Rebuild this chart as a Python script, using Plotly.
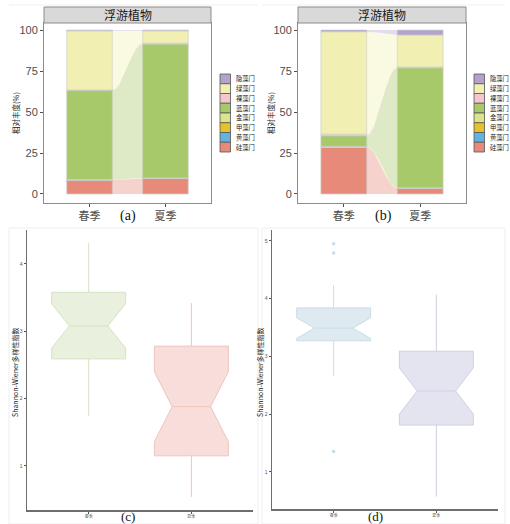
import numpy as np
import plotly.graph_objects as go

W, H = 510, 524

# ---------------- data ----------------
phyla = ["硅藻门", "黄藻门", "甲藻门", "金藻门", "蓝藻门", "裸藻门", "绿藻门", "隐藻门"]  # bottom -> top
phyla_colors = ["#e88a7a", "#63b3e0", "#e8c02a", "#dde38a", "#a8c96a", "#f4c6d0", "#f2efb3", "#b3a2cc"]
seasons = ["春季", "夏季"]

a_spring = [8.5, 0.0, 0.0, 0.3, 54.5, 0.2, 36.0, 0.5]
a_summer = [9.5, 0.0, 0.0, 0.3, 81.7, 0.5, 7.5, 0.5]
b_spring = [28.5, 0.0, 0.0, 0.5, 6.5, 1.0, 62.5, 1.0]
b_summer = [3.5, 0.0, 0.0, 0.3, 73.2, 0.5, 19.5, 3.0]

# box statistics
c_spring = dict(low=1.74, q1=2.59, med=3.08, q3=3.58, up=4.31, notch=0.33)
c_summer = dict(low=0.54, q1=1.15, med=1.88, q3=2.78, up=3.42, notch=0.52)
d_spring = dict(low=2.66, q1=3.27, med=3.49, q3=3.84, up=4.24, notch=0.18)
d_summer = dict(low=0.57, q1=1.81, med=2.40, q3=3.09, up=4.07, notch=0.40)
d_spring_outliers = [4.95, 4.79, 1.35]

strip_title = "浮游植物"
y_title_top = "相对丰度(%)"
y_title_box = "Shannon-Wiener多样性指数"


def xp(px):
    return px / W


def yp(py):
    return 1 - py / H


def rgba(hexc, a):
    h = hexc.lstrip("#")
    r, g, b = int(h[0:2], 16), int(h[2:4], 16), int(h[4:6], 16)
    return f"rgba({r},{g},{b},{a})"


fig = go.Figure()
shapes = []
annotations = []

GRID_GREY = "#4d4d4d"


def alluvial(spring, summer, xa, ya):
    s = np.concatenate([[0], np.cumsum(spring)])
    u = np.concatenate([[0], np.cumsum(summer)])
    t = np.linspace(0, 1, 40)
    f = (1 - np.cos(np.pi * t)) / 2
    hw = 0.3
    xs = 1 + hw + (1 - 2 * hw) * t
    for i, name in enumerate(phyla):
        if spring[i] <= 0 and summer[i] <= 0:
            continue
        lo = s[i] + (u[i] - s[i]) * f
        hi = s[i + 1] + (u[i + 1] - s[i + 1]) * f
        fig.add_trace(go.Scatter(
            x=np.concatenate([xs, xs[::-1]]), y=np.concatenate([lo, hi[::-1]]),
            fill="toself", fillcolor=rgba(phyla_colors[i], 0.38), mode="lines",
            line=dict(width=0), hoverinfo="skip", showlegend=False, xaxis=xa, yaxis=ya))
    for i, name in enumerate(phyla):
        vals = [spring[i], summer[i]]
        bases = [s[i], u[i]]
        fig.add_trace(go.Bar(
            x=[1, 2], y=vals, base=bases, width=0.6,
            marker=dict(color=phyla_colors[i], line=dict(color="rgba(205,205,205,0.9)", width=0.8)),
            showlegend=False, xaxis=xa, yaxis=ya, name=name, hoverinfo="skip"))


alluvial(a_spring, a_summer, "x", "y")
alluvial(b_spring, b_summer, "x2", "y2")

top_panels = [(44, 211, 15, 220, 128, "(a)"), (298, 466, 270, 474, 383, "(b)")]
PT, PB = 23, 203

axis_common = dict(showgrid=False, zeroline=False, ticks="outside", ticklen=3,
                   tickcolor=GRID_GREY, showline=True, mirror=True, linecolor="#8c8c8c", linewidth=1)

layout_axes = {}
for k, (xl, xr, ytx, legx, labx, lab) in enumerate(top_panels):
    sfx = "" if k == 0 else str(k + 1)
    layout_axes["xaxis" + sfx] = dict(domain=[xp(xl), xp(xr)], range=[0.4, 2.6], anchor="y" + sfx,
                                      tickvals=[1, 2], ticktext=seasons,
                                      tickfont=dict(size=11, color=GRID_GREY, family="Noto Sans CJK SC"),
                                      **axis_common)
    layout_axes["yaxis" + sfx] = dict(domain=[yp(PB), yp(PT)], range=[-5.5, 104.3], anchor="x" + sfx,
                                      tickvals=[0, 25, 50, 75, 100],
                                      tickfont=dict(size=11, color=GRID_GREY, family="Liberation Sans"),
                                      **axis_common)
    shapes.append(dict(type="rect", xref="paper", yref="paper", x0=xp(xl), x1=xp(xr), y0=yp(23), y1=yp(7),
                       fillcolor="#d9d9d9", line=dict(color="#8c8c8c", width=1)))
    annotations.append(dict(xref="paper", yref="paper", x=xp((xl + xr) / 2), y=yp(15), text=strip_title,
                            showarrow=False, font=dict(size=12, color="#1a1a1a", family="Noto Sans CJK SC"),
                            xanchor="center", yanchor="middle"))
    annotations.append(dict(xref="paper", yref="paper", x=xp(ytx), y=yp(113), text=y_title_top,
                            showarrow=False, textangle=-90,
                            font=dict(size=7.5, color="#1a1a1a", family="Noto Sans CJK SC"),
                            xanchor="center", yanchor="middle"))
    n = len(phyla)
    top = 74
    step = 9.75
    for j in range(n):
        idx = n - 1 - j
        y0 = top + j * step
        shapes.append(dict(type="rect", xref="paper", yref="paper", x0=xp(legx), x1=xp(legx + 10.5),
                           y0=yp(y0 + step), y1=yp(y0), fillcolor=phyla_colors[idx],
                           line=dict(color="#555555", width=0.8)))
        annotations.append(dict(xref="paper", yref="paper", x=xp(legx + 14), y=yp(y0 + step / 2),
                                text=phyla[idx], showarrow=False, xanchor="left", yanchor="middle",
                                font=dict(size=6.3, color="#1a1a1a", family="Noto Sans CJK SC")))
    annotations.append(dict(xref="paper", yref="paper", x=xp(labx), y=yp(216), text=lab, showarrow=False,
                            xanchor="center", yanchor="middle",
                            font=dict(size=14, color="#111111", family="Liberation Serif")))


# ---------------- box plots ----------------
def add_box(stats, name, fill, line, xa, ya):
    fig.add_trace(go.Box(
        x=[name], q1=[stats["q1"]], median=[stats["med"]], q3=[stats["q3"]],
        lowerfence=[stats["low"]], upperfence=[stats["up"]],
        notchspan=[stats["notch"]], notched=True, notchwidth=0.24, width=0.72, whiskerwidth=0,
        fillcolor=fill, line=dict(color=line, width=1), boxpoints=False,
        showlegend=False, xaxis=xa, yaxis=ya, hoverinfo="skip"))


add_box(c_spring, seasons[0], "#e9f0dd", "#d5e4c2", "x3", "y3")
add_box(c_summer, seasons[1], "#f8dedb", "#f2c3bc", "x3", "y3")
add_box(d_spring, seasons[0], "#dfeaf0", "#c9dde8", "x4", "y4")
add_box(d_summer, seasons[1], "#e4e4f0", "#d0d0e4", "x4", "y4")
fig.add_trace(go.Scatter(x=[seasons[0]] * len(d_spring_outliers), y=d_spring_outliers, mode="markers",
                         marker=dict(color="#c9dde8", size=3.5), showlegend=False, xaxis="x4", yaxis="y4",
                         hoverinfo="skip"))

box_axis = dict(showgrid=False, zeroline=False, ticks="outside", ticklen=2, tickcolor="#555555",
                showline=True, linecolor="#6e6e6e", linewidth=1.5)
box_panels = [(27, 253, 230, 510, [0.345, 4.505], [1, 2, 3, 4], 15, 128, "(c)"),
              (272, 498, 230, 509, [0.355, 5.19], [1, 2, 3, 4, 5], 260, 375, "(d)")]
for k, (xl, xr, yt, yb, yr, tv, ytx, labx, lab) in enumerate(box_panels):
    sfx = str(k + 3)
    layout_axes["xaxis" + sfx] = dict(domain=[xp(xl), xp(xr)], range=[-0.6, 1.6], anchor="y" + sfx,
                                      type="category", categoryorder="array", categoryarray=seasons,
                                      tickfont=dict(size=4, color="#555555", family="Noto Sans CJK SC"),
                                      **box_axis)
    layout_axes["yaxis" + sfx] = dict(domain=[yp(yb), yp(yt)], range=yr, anchor="x" + sfx, tickvals=tv,
                                      tickfont=dict(size=5, color="#555555", family="Liberation Sans"),
                                      **box_axis)
    annotations.append(dict(xref="paper", yref="paper", x=xp(ytx), y=yp(372), text=y_title_box,
                            showarrow=False, textangle=-90,
                            font=dict(size=7, color="#1a1a1a", family="Noto Sans CJK SC"),
                            xanchor="center", yanchor="middle"))
    annotations.append(dict(xref="paper", yref="paper", x=xp(labx), y=yp(516), text=lab, showarrow=False,
                            xanchor="center", yanchor="middle",
                            font=dict(size=13, color="#111111", family="Liberation Serif")))

for (x0, x1) in [(9, 258), (262, 505)]:
    shapes.append(dict(type="rect", xref="paper", yref="paper", x0=xp(x0), x1=xp(x1), y0=yp(524), y1=yp(228),
                       line=dict(color="#eeeeee", width=1), fillcolor="rgba(0,0,0,0)", layer="below"))
    shapes.append(dict(type="line", xref="paper", yref="paper", x0=xp(x0), x1=xp(x1), y0=yp(5), y1=yp(5),
                       line=dict(color="#f0f0f0", width=1), layer="below"))

fig.update_layout(
    width=W, height=H, autosize=False, margin=dict(l=0, r=0, t=0, b=0),
    paper_bgcolor="white", plot_bgcolor="white", barmode="overlay", bargap=0, showlegend=False,
    hovermode=False, shapes=shapes, annotations=annotations, **layout_axes)

fig.write_html("out.html", config={"displayModeBar": False, "staticPlot": True},
               post_script="document.body.style.margin='0';document.body.style.overflow='hidden';")
